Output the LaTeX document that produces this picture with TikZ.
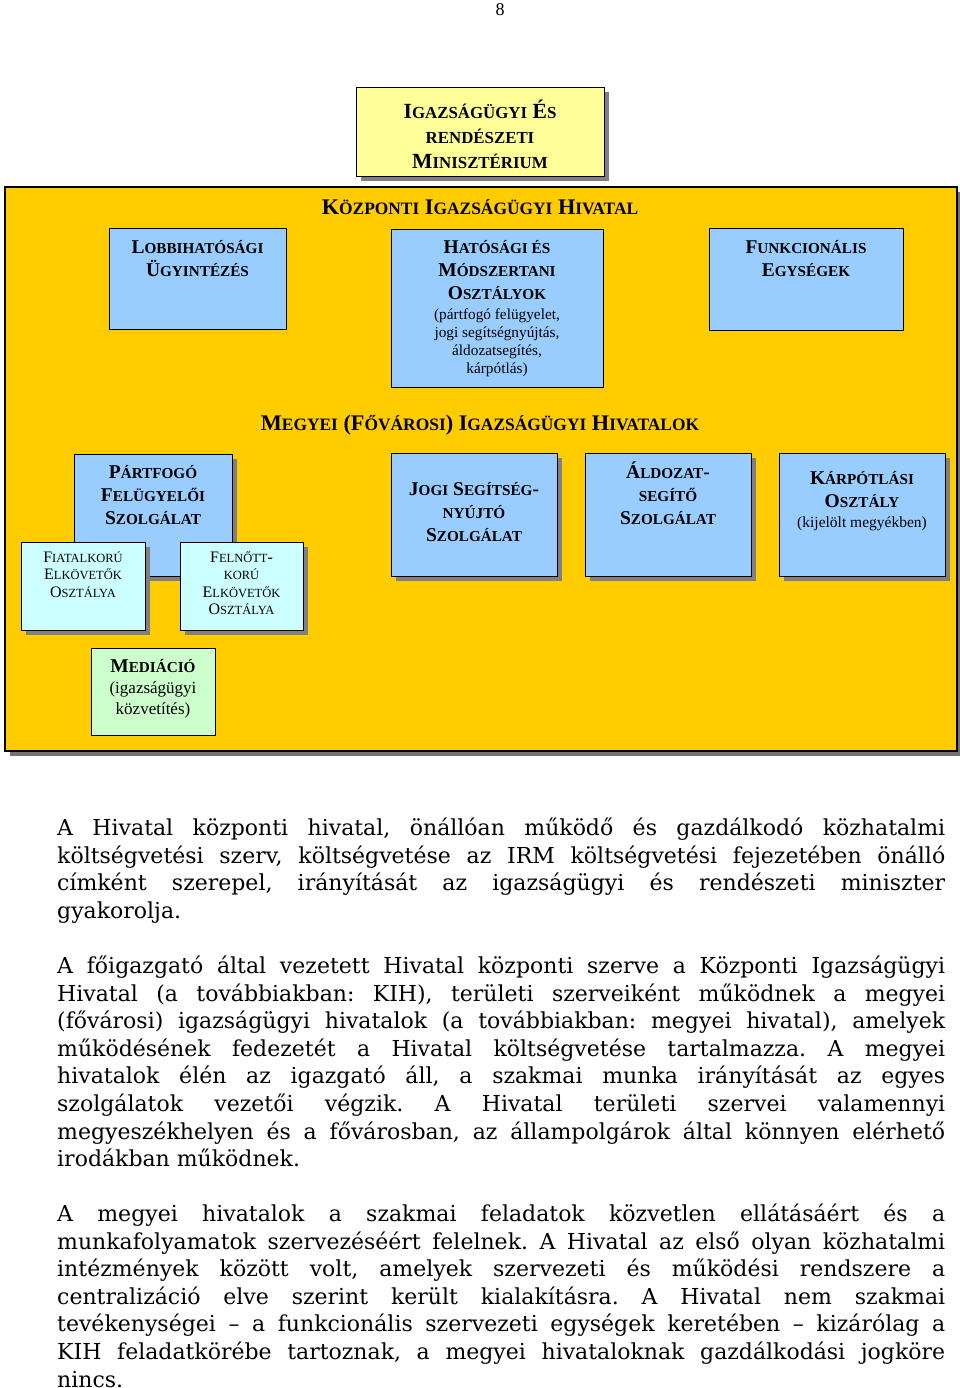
\documentclass[tikz,border=0pt]{standalone}
\usepackage{fontspec}
\setmainfont{DejaVu Serif}
\newfontfamily\timesfont{Liberation Serif}
\usetikzlibrary{shadows}

\definecolor{kihorange}{HTML}{FFCC00}
\definecolor{unitblue}{HTML}{99CCFF}
\definecolor{irmyellow}{HTML}{FFFF99}
\definecolor{deptcyan}{HTML}{CCFFFF}
\definecolor{medgreen}{HTML}{CCFFCC}

\makeatletter
\newcommand{\smc}[1]{{\fontsize{\strip@pt\dimexpr0.78\dimexpr\f@size pt\relax\relax}{\f@baselineskip}\selectfont #1}}
\makeatother

\newcommand{\irmfont}{\timesfont\bfseries\fontsize{21.6}{25}\selectfont}
\newcommand{\headfont}{\timesfont\bfseries\fontsize{22.3}{25}\selectfont}
\newcommand{\unitfont}{\timesfont\bfseries\fontsize{19.5}{23}\selectfont}
\newcommand{\deptfont}{\timesfont\fontsize{16}{17.5}\selectfont}
\newcommand{\notefont}{\timesfont\fontsize{15.3}{18}\selectfont}
\newcommand{\mednotefont}{\timesfont\fontsize{17}{21}\selectfont}
\newcommand{\bodyfont}{\fontsize{22}{27.6}\selectfont\frenchspacing\tolerance=10000\emergencystretch=20pt}

\tikzstyle{unit} = [rectangle, draw=black, line width=1.2pt, inner sep=0, anchor=north west]
\tikzstyle{shadowed} = [drop shadow={shadow xshift=4pt, shadow yshift=-4pt, fill=black!50, opacity=1}]
\tikzstyle{boxtext} = [anchor=base, inner sep=0]
\tikzstyle{bodytext} = [anchor=base west, inner sep=0, font=\bodyfont]

\begin{document}
\begin{tikzpicture}[x = 1pt, y = -1pt]

\path[use as bounding box] (0,0) rectangle (960,1388);

% ----------------------------------------------------

% helper grid (comment out once you're done!)
%\draw[help lines,step=10,thin,gray!20] (0,0) grid (960,1388);
%\draw[help lines,step=100,gray!40,very thick] (0,0) grid (960,1388);

% ----------------------------------------------------

  \node (pagenum) [boxtext, font=\timesfont\fontsize{18}{20}\selectfont] at (500,16) {8};

  % ministry
  \node (irm) [unit, fill=irmyellow, shadowed, minimum width=248pt, minimum height=89pt] at (356,87) {};
  \node (irm-txt) [boxtext, font=\irmfont] at (480,119) {
  \begin{tabular}[t]{c}
    I\smc{GAZSÁGÜGYI} É\smc{S} \\
    \smc{RENDÉSZETI} \\
    M\smc{INISZTÉRIUM}
  \end{tabular}
  };

  % central office
  \node (kih) [unit, fill=kihorange, line width=1.6pt,
    drop shadow={shadow xshift=5pt, shadow yshift=-5pt, fill=black!55, opacity=1},
    minimum width=952pt, minimum height=564pt] at (4,186) {};
  \node (kih-title) [boxtext, font=\headfont] at (480,215) {K\smc{ÖZPONTI} I\smc{GAZSÁGÜGYI} H\smc{IVATAL}};

  \node (lobbi) [unit, fill=unitblue, minimum width=177pt, minimum height=101pt] at (109,228) {};
  \node (lobbi-txt) [boxtext, font=\unitfont] at (197.5,253) {
  \begin{tabular}[t]{c}
    L\smc{OBBIHATÓSÁGI} \\
    Ü\smc{GYINTÉZÉS}
  \end{tabular}
  };

  \node (hatosagi) [unit, fill=unitblue, minimum width=212pt, minimum height=158pt] at (391,229) {};
  \node (hatosagi-txt) [boxtext, font=\unitfont] at (497,254) {
  \begin{tabular}[t]{c}
    H\smc{ATÓSÁGI ÉS} \\
    M\smc{ÓDSZERTANI} \\
    O\smc{SZTÁLYOK}
  \end{tabular}
  };
  \node (hatosagi-note) [boxtext, font=\notefont] at (497,319) {
  \begin{tabular}[t]{c}
    (pártfogó felügyelet, \\
    jogi segítségnyújtás, \\
    áldozatsegítés, \\
    kárpótlás)
  \end{tabular}
  };

  \node (funkc) [unit, fill=unitblue, minimum width=194pt, minimum height=102pt] at (709,228) {};
  \node (funkc-txt) [boxtext, font=\unitfont] at (806,254) {
  \begin{tabular}[t]{c}
    F\smc{UNKCIONÁLIS} \\
    E\smc{GYSÉGEK}
  \end{tabular}
  };

  % county offices
  \node (megyei-title) [boxtext, font=\headfont] at (480,430) {M\smc{EGYEI} (F\smc{ŐVÁROSI}) I\smc{GAZSÁGÜGYI} H\smc{IVATALOK}};

  \node (partfogo) [unit, fill=unitblue, shadowed, minimum width=158pt, minimum height=122pt] at (74,454) {};
  \node (partfogo-txt) [boxtext, font=\unitfont] at (153,478) {
  \begin{tabular}[t]{c}
    P\smc{ÁRTFOGÓ} \\
    F\smc{ELÜGYELŐI} \\
    S\smc{ZOLGÁLAT}
  \end{tabular}
  };

  \node (fiatal) [unit, fill=deptcyan, shadowed, minimum width=124pt, minimum height=88pt] at (21,542) {};
  \node (fiatal-txt) [boxtext, font=\deptfont] at (83,562) {
  \begin{tabular}[t]{c}
    F\smc{IATALKORÚ} \\
    E\smc{LKÖVETŐK} \\
    O\smc{SZTÁLYA}
  \end{tabular}
  };

  \node (felnott) [unit, fill=deptcyan, shadowed, minimum width=123pt, minimum height=88pt] at (180,542) {};
  \node (felnott-txt) [boxtext, font=\deptfont] at (241.5,562) {
  \begin{tabular}[t]{c}
    F\smc{ELNŐTT}- \\
    \smc{KORÚ} \\
    E\smc{LKÖVETŐK} \\
    O\smc{SZTÁLYA}
  \end{tabular}
  };

  \node (jogi) [unit, fill=unitblue, shadowed, minimum width=166pt, minimum height=123pt] at (391,453) {};
  \node (jogi-txt) [boxtext, font=\unitfont] at (474,495) {
  \begin{tabular}[t]{c}
    J\smc{OGI} S\smc{EGÍTSÉG}- \\
    \smc{NYÚJTÓ} \\
    S\smc{ZOLGÁLAT}
  \end{tabular}
  };

  \node (aldozat) [unit, fill=unitblue, shadowed, minimum width=166pt, minimum height=123pt] at (585,453) {};
  \node (aldozat-txt) [boxtext, font=\unitfont] at (668,478) {
  \begin{tabular}[t]{c}
    Á\smc{LDOZAT}- \\
    \smc{SEGÍTŐ} \\
    S\smc{ZOLGÁLAT}
  \end{tabular}
  };

  \node (karpotlas) [unit, fill=unitblue, shadowed, minimum width=166pt, minimum height=123pt] at (779,453) {};
  \node (karpotlas-txt) [boxtext, font=\unitfont] at (862,484) {
  \begin{tabular}[t]{c}
    K\smc{ÁRPÓTLÁSI} \\
    O\smc{SZTÁLY}
  \end{tabular}
  };
  \node (karpotlas-note) [boxtext, font=\timesfont\fontsize{15.5}{18}\selectfont] at (862,527) {(kijelölt megyékben)};

  \node (mediacio) [unit, fill=medgreen, minimum width=124pt, minimum height=87pt] at (91,648) {};
  \node (mediacio-txt) [boxtext, font=\unitfont] at (153,672) {M\smc{EDIÁCIÓ}};
  \node (mediacio-note) [boxtext, font=\mednotefont] at (153,693) {
  \begin{tabular}[t]{c}
    (igazságügyi \\
    közvetítés)
  \end{tabular}
  };

% ----------------------------------------------------

  % body text
  \node (para1) [bodytext] at (57,835.5) {\parbox[t]{888pt}{%
  A Hivatal központi hivatal, önállóan működő és gazdálkodó közhatalmi\linebreak
  költségvetési szerv, költségvetése az IRM költségvetési fejezetében önálló\linebreak
  címként szerepel, irányítását az igazságügyi és rendészeti miniszter\linebreak
  gyakorolja.}};

  \node (para2) [bodytext] at (57,973.5) {\parbox[t]{888pt}{%
  A főigazgató által vezetett Hivatal központi szerve a Központi Igazságügyi\linebreak
  Hivatal (a továbbiakban: KIH), területi szerveiként működnek a megyei\linebreak
  (fővárosi) igazságügyi hivatalok (a továbbiakban: megyei hivatal), amelyek\linebreak
  működésének fedezetét a Hivatal költségvetése tartalmazza. A megyei\linebreak
  hivatalok élén az igazgató áll, a szakmai munka irányítását az egyes\linebreak
  szolgálatok vezetői végzik. A Hivatal területi szervei valamennyi\linebreak
  megyeszékhelyen és a fővárosban, az állampolgárok által könnyen elérhető\linebreak
  irodákban működnek.}};

  \node (para3) [bodytext] at (57,1221.5) {\parbox[t]{888pt}{%
  A megyei hivatalok a szakmai feladatok közvetlen ellátásáért és a\linebreak
  munkafolyamatok szervezéséért felelnek. A Hivatal az első olyan közhatalmi\linebreak
  intézmények között volt, amelyek szervezeti és működési rendszere a\linebreak
  centralizáció elve szerint került kialakításra. A Hivatal nem szakmai\linebreak
  tevékenységei – a funkcionális szervezeti egységek keretében – kizárólag a\linebreak
  KIH feladatkörébe tartoznak, a megyei hivataloknak gazdálkodási jogköre\linebreak
  nincs.}};

\end{tikzpicture}
\end{document}
